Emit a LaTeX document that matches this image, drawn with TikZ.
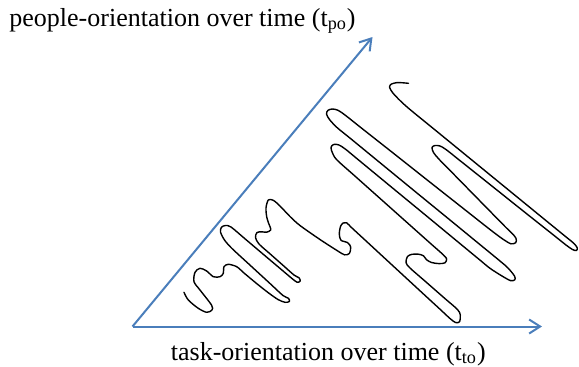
\documentclass[tikz,border=0pt]{standalone}
\usepackage{fontspec}
\setmainfont{Liberation Serif}
\usetikzlibrary{arrows.meta}
\definecolor{axisblue}{HTML}{4A7EBB}

\begin{document}
\begin{tikzpicture}[
    x=0.5pt, y=-0.5pt,
    font=\fontsize{13}{15}\selectfont,
    axis/.style={draw=axisblue, line width=1pt, -{Straight Barb[length=5.5pt,width=7pt]}},
    scribble/.style={draw=black, line width=0.7pt, line join=round, line cap=round},
    lbl/.style={inner sep=0pt}
  ]
  \useasboundingbox (0,0) rectangle (579,366);

  \coordinate (origin)    at (132.5,326.5);
  \coordinate (taskend)   at (542,326.5);
  \coordinate (peopleend) at (372.5,37);

  \node[lbl, anchor=base west] (peoplelabel) at (9,26)      {people-orientation over time (t\textsubscript{po})};
  \node[lbl, anchor=base west] (tasklabel)   at (170.5,360) {task-orientation over time (t\textsubscript{to})};

  \draw[axis] (origin) -- (taskend);
  \draw[axis] (origin) -- (peopleend);

  % the scribble, one stroke from bottom left to the curl at the top
  \draw[scribble] plot[smooth, tension=0.5] coordinates {
    (184,292.3) (188.3,300) (198.3,308.3) (206.7,312.3) (212,310) (211.5,305)
    (200,290) (194,281.7) (195,272.3) (200,268.3) (206.7,271) (213.3,276.7)
    (220,276.7) (223.3,273.3) (224,266.7) (228.3,264.3) (236.7,266.7)
    (244,273) (256,283) (268,292.5) (278,299.5) (285,302.3) (289.3,301.5)
    (288.5,298.3) (283,295.5) (270,283.5) (250,265.1) (232,248.5) (224.5,240)
    (220.5,232) (221.5,227.2) (225.5,225.5) (231,227)
    (245,238.8) (262,253.2) (278,266.7) (292,278.5) (297.3,282.3) (300.2,281)
    (299,277.8) (294,275) (283,265.3) (270,253.8) (259,244) (255.5,237.5)
    (257,232.5) (262,231.8) (266.5,232.2) (270.8,229.8) (268.5,223) (266.7,216.7)
    (266,208) (268.3,200) (273.3,200.3) (280,206) (290,216.5) (300,225.5)
    (320,239.5) (337,250.5) (344.5,254.8) (349.3,253.5) (350.7,247) (347.5,242.5)
    (341,240.3) (339.3,234) (340.5,226.5) (343,223) (346.5,222.7) (352,228)
    (365,240) (395,267.7) (425,295.4) (440,309.2) (450,318.5) (455.5,322.5)
    (459.5,321.8) (460.3,315) (457.5,309.5) (445,298.6) (425,281.1) (410,268)
    (406,262.5) (407.5,256.5) (412,254.3) (418.5,254.2) (423.5,255.8) (426.5,259.7)
    (431.5,262.5) (439,263.6) (445,262.8) (446.6,259) (443.5,255)
    (430,243) (405,220.7) (380,198.4) (355,176.1) (337,160) (332.5,153)
    (331,147.5) (333.5,144.5) (338.5,144.8) (345,148.8)
    (358,159.5) (390,185.9) (425,214.7) (460,243.6) (480,260.1) (490,268.3)
    (502,276) (510.5,280.6) (514.8,279.8) (514.5,276) (508,268)
    (500,261) (480,244.6) (450,220) (415,191.4) (380,162.7) (350,138.1) (337,127.5)
    (329.5,119.5) (326.5,114) (328,110.3) (332.5,109) (338,110.3) (345,115)
    (360,126.9) (395,154.5) (430,182.2) (465,209.8) (490,229.5) (503,239.2)
    (511,243.8) (515.8,242.6) (516,238.3) (512.5,233.8)
    (506,227.5) (490,211.2) (470,190.8) (450,170.4) (439,159.2) (433.5,152.5)
    (432,147.5) (435,145.5) (440,146) (446,149.5)
    (460,160.6) (495,188.5) (530,216.4) (555,236.2) (566,245) (572.5,249.5)
    (576.3,250.5) (577.3,248) (574,243.5)
    (565,236.1) (540,215.7) (505,187.1) (470,158.5) (435,129.9) (410,109.5)
    (400,100.5) (392.5,92.5) (389.5,87) (391.5,84) (397,82.6) (403,82.8) (408.5,83.3)
  };
\end{tikzpicture}
\end{document}
